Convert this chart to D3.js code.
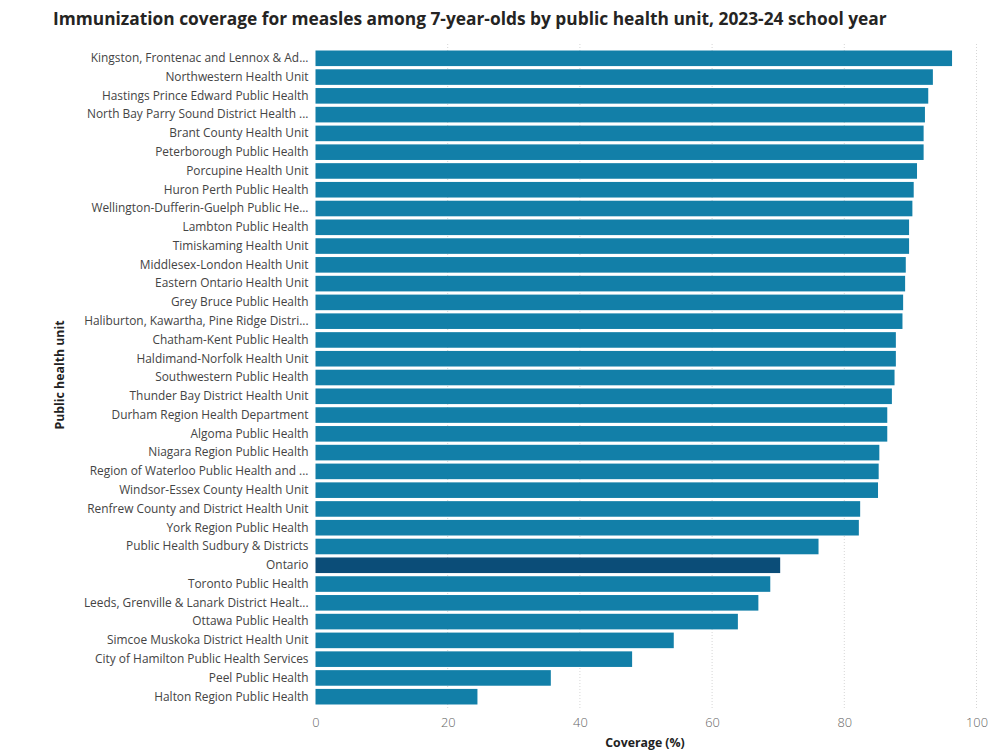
<!DOCTYPE html>
<html><head><meta charset="utf-8">
<script src="https://cdn.jsdelivr.net/npm/d3@7"></script>
<style>body{margin:0;background:#fff}svg{display:block}</style>
</head><body>
<svg id="c" width="1000" height="756"></svg>
<script>
const title = "Immunization coverage for measles among 7-year-olds by public health unit, 2023-24 school year";
const units = [
"Kingston, Frontenac and Lennox & Ad...",
"Northwestern Health Unit",
"Hastings Prince Edward Public Health",
"North Bay Parry Sound District Health ...",
"Brant County Health Unit",
"Peterborough Public Health",
"Porcupine Health Unit",
"Huron Perth Public Health",
"Wellington-Dufferin-Guelph Public He...",
"Lambton Public Health",
"Timiskaming Health Unit",
"Middlesex-London Health Unit",
"Eastern Ontario Health Unit",
"Grey Bruce Public Health",
"Haliburton, Kawartha, Pine Ridge Distri...",
"Chatham-Kent Public Health",
"Haldimand-Norfolk Health Unit",
"Southwestern Public Health",
"Thunder Bay District Health Unit",
"Durham Region Health Department",
"Algoma Public Health",
"Niagara Region Public Health",
"Region of Waterloo Public Health and ...",
"Windsor-Essex County Health Unit",
"Renfrew County and District Health Unit",
"York Region Public Health",
"Public Health Sudbury & Districts",
"Ontario",
"Toronto Public Health",
"Leeds, Grenville & Lanark District Healt...",
"Ottawa Public Health",
"Simcoe Muskoka District Health Unit",
"City of Hamilton Public Health Services",
"Peel Public Health",
"Halton Region Public Health"
];
const coverage = [96.3,93.4,92.7,92.2,92.0,92.0,91.0,90.5,90.3,89.8,89.8,89.3,89.2,88.9,88.8,87.8,87.8,87.6,87.2,86.5,86.5,85.3,85.2,85.1,82.4,82.2,76.1,70.3,68.8,67.0,63.9,54.2,47.9,35.6,24.5];
const xTicks = [0,20,40,60,80,100];
const highlight = "Ontario";
const xTitle = "Coverage (%)";
const yTitle = "Public health unit";

const svg = d3.select("#c");
const font = "'Open Sans', 'Noto Sans', sans-serif";
const x = d3.scaleLinear().domain([0,100]).range([315.5,976.5]);
const y = d3.scaleBand().domain(units).range([49,706]).paddingInner(0.17).paddingOuter(0.08);

// gridlines
svg.append("g").selectAll("line").data(xTicks.filter(t=>t>0)).join("line")
  .attr("x1",d=>x(d)).attr("x2",d=>x(d)).attr("y1",44).attr("y2",708)
  .attr("stroke","#d6d6d6").attr("stroke-width",1).attr("stroke-dasharray","1,2");

// bars
const rows = units.map((u,i)=>({u, v: coverage[i]}));
svg.append("g").selectAll("rect").data(rows).join("rect")
  .attr("x",x(0)).attr("y",d=>y(d.u)).attr("width",d=>x(d.v)-x(0)).attr("height",y.bandwidth())
  .attr("fill",d=>d.u===highlight?"#0b4d78":"#127fa8");

// y axis labels
const yAxis = svg.append("g").attr("transform",`translate(${x(0)},0)`)
  .call(d3.axisLeft(y).tickSize(0).tickPadding(7));
yAxis.select(".domain").remove();
yAxis.selectAll("text").attr("font-family",font).attr("font-size",11.9).attr("fill","#444");

// x axis
const xAxis = svg.append("g").attr("transform",`translate(0,715)`)
  .call(d3.axisBottom(x).tickValues(xTicks).tickSize(0).tickPadding(3));
xAxis.select(".domain").remove();
xAxis.selectAll("text").attr("font-family",font).attr("font-size",12.8).attr("fill","#666").attr("font-weight",300);

// axis titles
svg.append("text").attr("x",645).attr("y",747).attr("text-anchor","middle")
  .attr("font-family",font).attr("font-weight",700).attr("font-size",12.3).attr("fill","#222").text(xTitle);
svg.append("text").attr("transform","translate(64,375) rotate(-90)").attr("text-anchor","middle")
  .attr("font-family",font).attr("font-weight",700).attr("font-size",12.3).attr("fill","#222").text(yTitle);

// title
const t = svg.append("text").attr("x",53).attr("y",25)
  .attr("font-family",font).attr("font-weight",700).attr("font-size",18.5).attr("fill","#252423").text(title);
const w = t.node().getComputedTextLength();
t.attr("font-size", 18.5*834/w);
</script>
</body></html>
